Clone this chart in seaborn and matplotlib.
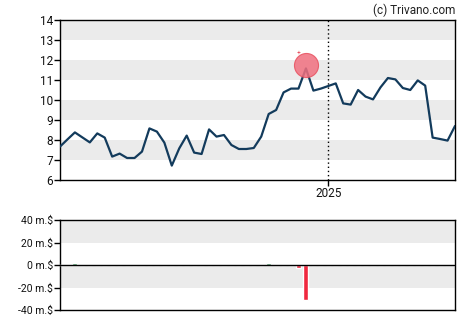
import numpy as np
import pandas as pd
import matplotlib
matplotlib.use("Agg")
import matplotlib.pyplot as plt
import matplotlib.dates as mdates
import seaborn as sns

dates = pd.date_range("2024-04-24", periods=54, freq="7D")
price = [7.67, 8.03, 8.38, 8.13, 7.88, 8.33, 8.12, 7.17, 7.32, 7.10,
         7.10, 7.42, 8.58, 8.42, 7.87, 6.72, 7.58, 8.22, 7.37, 7.30,
         8.53, 8.17, 8.25, 7.75, 7.55, 7.55, 7.60, 8.17, 9.30, 9.50,
         10.38, 10.57, 10.57, 11.58, 10.47, 10.57, 10.70, 10.83, 9.83, 9.77,
         10.50, 10.17, 10.03, 10.63, 11.10, 11.03, 10.60, 10.50, 10.98, 10.72,
         8.12, 8.05, 7.97, 8.70]
volume = [0.0] * 54
volume[2] = 1.6
volume[28] = 1.6
volume[32] = -2.5
volume[33] = -31.0
price_ticks = [6, 7, 8, 9, 10, 11, 12, 13, 14]
vol_ticks = [-40, -20, 0, 20, 40]
vol_labels = ["-40 m.$", "-20 m.$", "0 m.$", "20 m.$", "40 m.$"]
year_tick = pd.Timestamp("2025-01-01")
year_label = "2025"
highlight_idx = 33

sns.set_theme(style="white")
plt.rcParams["font.family"] = ["Roboto", "DejaVu Sans"]

df = pd.DataFrame({"date": dates, "price": price, "volume": volume})

fig = plt.figure(figsize=(4.7, 3.25), dpi=100)
ax = fig.add_axes([60 / 470, 1 - 180 / 325, 395 / 470, 160 / 325])
ax2 = fig.add_axes([60 / 470, 1 - 310 / 325, 395 / 470, 90 / 325])

band = "#ebebeb"
for lo in [7, 9, 11, 13]:
    ax.axhspan(lo, lo + 1, color=band, lw=0, zorder=0)
sns.lineplot(data=df, x="date", y="price", ax=ax, color="#133b5c", lw=1.6, zorder=3)
ax.scatter([dates[highlight_idx]], [11.75], s=300, color="#f0707f", alpha=0.85,
           edgecolor="#e8505f", linewidth=0.8, zorder=4)
ax.text(dates[highlight_idx] - pd.Timedelta(days=6.5), 12.35, "+", color="#e8505f",
        fontsize=5, ha="center", va="center", zorder=5)
ax.axvline(year_tick, color="black", ls=(0, (1, 2)), lw=1, zorder=2)
ax.set_xlim(dates[0], dates[-1])
ax.set_ylim(6, 14)
ax.set_yticks(price_ticks)
ax.set_xticks([year_tick])
ax.set_xticklabels([year_label])
ax.set_xlabel("")
ax.set_ylabel("")
ax.tick_params(axis="both", length=4, width=1, color="black", labelsize=8.5,
               pad=1, left=True, bottom=True, labelcolor="#111111")
for s in ax.spines.values():
    s.set_color("black")
    s.set_linewidth(1)
ax.text(1.0, 1.02, "(c) Trivano.com", transform=ax.transAxes, ha="right",
        va="bottom", fontsize=8.5, color="#222222")

for lo in [-20, 20]:
    ax2.axhspan(lo, lo + 20, color=band, lw=0, zorder=0)
colors = ["#2e8b4e" if v >= 0 else "#f0283f" for v in volume]
ax2.bar(df["date"], df["volume"], width=4.8, color=colors, zorder=3)
ax2.axhline(0, color="black", lw=1, zorder=4)
ax2.set_xlim(dates[0], dates[-1])
ax2.set_ylim(-40, 40)
ax2.set_yticks(vol_ticks)
ax2.set_yticklabels(vol_labels)
ax2.set_xticks([])
ax2.tick_params(axis="y", length=4, width=1, color="black", labelsize=7.5,
                pad=1, left=True, labelcolor="#111111")
for s in ax2.spines.values():
    s.set_color("black")
    s.set_linewidth(1)

fig.savefig("out.png", dpi=100)
